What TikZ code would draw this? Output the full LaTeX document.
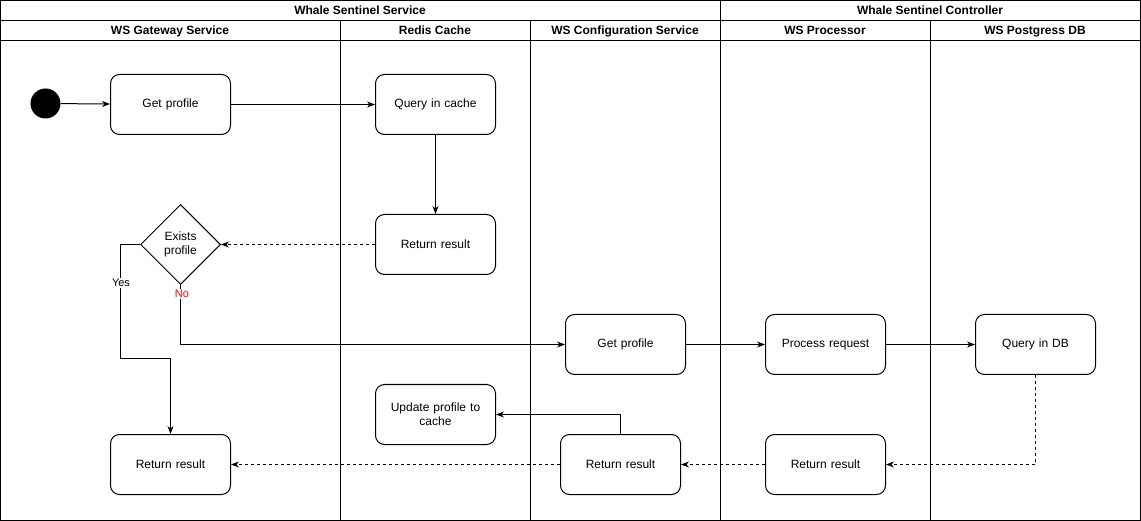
\documentclass[tikz,border=0pt]{standalone}
\usepackage{fontspec}
\setmainfont{Liberation Sans}
\usetikzlibrary{arrows.meta,shapes.geometric}
\begin{document}
\begin{tikzpicture}[x=1pt,y=-1pt,
  line width=1pt,
  hdr/.style={font=\fontsize{12}{14}\selectfont\bfseries,anchor=base,inner sep=0pt},
  box/.style={draw,rounded corners=9pt,minimum width=120pt,minimum height=60pt,align=center,inner sep=2pt,font=\fontsize{12}{14}\selectfont,text width=110pt},
  dec/.style={draw,diamond,minimum width=80pt,minimum height=80pt,inner sep=0pt,align=center,aspect=1,font=\fontsize{12}{14}\selectfont},
  arr/.style={-{Stealth[length=8pt,width=6pt,inset=2.5pt]}},
  dsh/.style={arr,dash pattern=on 3pt off 3pt},
  elab/.style={fill=white,inner sep=1pt,font=\fontsize{11}{13}\selectfont}
]
\useasboundingbox (0,0) rectangle (1141,521);
% frame and lanes
\draw (0.5,0.5) rectangle (1140.5,520.5);
\draw (0.5,20.5) -- (1140.5,20.5);
\draw (0.5,40.5) -- (1140.5,40.5);
\draw (720.5,0.5) -- (720.5,520.5);
\foreach \x in {340.5,530.5,930.5} \draw (\x,20.5) -- (\x,520.5);
\node[hdr] (h1) at (360,14.5) {Whale Sentinel Service};
\node[hdr] (h2) at (930,14.5) {Whale Sentinel Controller};
\node[hdr] (l1) at (170,34.5) {WS Gateway Service};
\node[hdr] (l2) at (435,34.5) {Redis Cache};
\node[hdr] (l3) at (625,34.5) {WS Configuration Service};
\node[hdr] (l4) at (825,34.5) {WS Processor};
\node[hdr] (l5) at (1035,34.5) {WS Postgress DB};
% nodes
\node[circle,fill=black,minimum size=30pt,inner sep=0pt] (start) at (45.5,103.5) {};
\node[box] (gp) at (170.5,104.5) {Get profile};
\node[box] (qc) at (435.5,104.5) {Query in cache};
\node[box] (rr1) at (435.5,244.5) {Return result};
\node[dec] (ex) at (180.5,244.5) {Exists\\profile};
\node[box] (gp2) at (625.5,344.5) {Get profile};
\node[box] (pr) at (825.5,344.5) {Process request};
\node[box] (qdb) at (1035.5,344.5) {Query in DB};
\node[box] (upd) at (435.5,414.5) {Update profile to\\cache};
\node[box] (rrg) at (170.5,464.5) {Return result};
\node[box] (rrc) at (620.5,464.5) {Return result};
\node[box] (rrp) at (825.5,464.5) {Return result};
% edges
\draw[arr] (start) -- (gp);
\draw[arr] (gp) -- (qc);
\draw[arr] (qc) -- (rr1);
\draw[dsh] (rr1) -- (ex);
\draw[arr] (ex.west) -- (120.5,244.5) -- (120.5,358.5) -- (170.5,358.5) -- (rrg.north);
\node[elab] (yes) at (121,283) {Yes};
\draw[arr] (ex.south) -- (180.5,344.5) -- (gp2.west);
\node[elab,text=red] (no) at (182,294) {No};
\draw[arr] (gp2) -- (pr);
\draw[arr] (pr) -- (qdb);
\draw[dsh] (qdb.south) -- (1035.5,464.5) -- (rrp.east);
\draw[dsh] (rrp) -- (rrc);
\draw[dsh] (rrc) -- (rrg);
\draw[arr] (rrc.north) -- (620.5,414.5) -- (upd.east);
\end{tikzpicture}
\end{document}
